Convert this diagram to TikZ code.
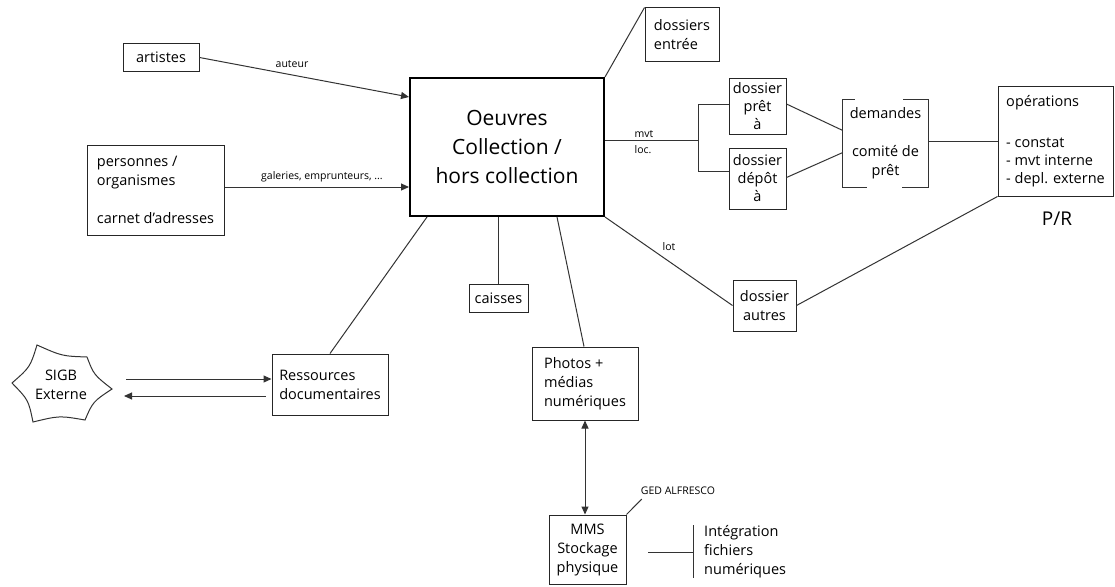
\documentclass[tikz,border=0pt]{standalone}
\usepackage{fontspec}
\setmainfont{Open Sans}
\usetikzlibrary{arrows.meta,calc}
\begin{document}
\begin{tikzpicture}[x=1pt,y=-1pt,
  line/.style={draw=black!80, line width=1pt},
  arr/.style={line, -{Triangle[length=8pt,width=7pt]}},
  darr/.style={line, {Triangle[length=8pt,width=7pt]}-{Triangle[length=8pt,width=7pt]}},
  box/.style={draw=black!85, line width=1pt, inner sep=0pt, align=center,
    font=\fontsize{14.5}{19}\selectfont},
  lbox/.style={box, align=left},
  bigbox/.style={draw=black, line width=2pt, inner sep=0pt, align=center,
    font=\fontsize{21}{29}\selectfont},
  lbl/.style={inner sep=0pt, font=\fontsize{10.5}{16}\selectfont},
  txt/.style={inner sep=0pt, font=\fontsize{14.5}{19}\selectfont}
]
\useasboundingbox (0,0) rectangle (1115,586);

% nodes
\node[box, minimum width=76pt, minimum height=27pt] (art) at (161,57.5) {artistes};
\node[lbox, minimum width=137pt, minimum height=90pt] (pers) at (155.5,190)
  {personnes /\\organismes\\[19pt]carnet d'adresses};
\node[bigbox, minimum width=194pt, minimum height=138pt] (main) at (507,147)
  {Oeuvres\\Collection /\\hors collection};
\node[lbox, minimum width=74pt, minimum height=53pt] (dent) at (682,34.5) {dossiers\\entrée};
\node[box, minimum width=57pt, minimum height=56pt, font=\fontsize{14.5}{18}\selectfont] (pret) at (757.5,106) {dossier\\prêt\\à};
\node[box, minimum width=57pt, minimum height=61pt, font=\fontsize{14.5}{18}\selectfont] (depot) at (757.5,178.5) {dossier\\dépôt\\à};
\node[txt, align=center, minimum width=85pt, minimum height=87pt] (dem) at (885.5,143.5)
  {demandes\\[19pt]comité de\\prêt};
\node[lbox, minimum width=115pt, minimum height=110pt, font=\fontsize{14.5}{18}\selectfont] (ops) at (1055.5,141)
  {opérations\\[23pt]- constat\\- mvt interne\\- depl. externe};
\node[txt, font=\fontsize{19}{22}\selectfont] (pr) at (1057,219) {P/R};
\node[box, minimum width=63pt, minimum height=51pt] (autres) at (764.5,305.5) {dossier\\autres};
\node[box, minimum width=59pt, minimum height=28pt] (caisses) at (498.5,298) {caisses};
\node[lbox, minimum width=106pt, minimum height=73pt] (photos) at (585,383.5)
  {Photos +\\médias\\numériques};
\node[box, minimum width=77pt, minimum height=69pt] (mms) at (587.5,549.5)
  {MMS\\Stockage\\physique};
\node[lbox, minimum width=116pt, minimum height=61pt] (res) at (330,384.5)
  {Ressources\\documentaires};
\node[txt, align=center] (sigb) at (61,385) {SIGB\\Externe};
\node[lbl] (ged) at (678,491) {GED ALFRESCO};
\node[txt, align=left, anchor=west] (integ) at (704,552) {Intégration\\fichiers\\numériques};

% labels
\node[lbl] (lauteur) at (292,64) {auteur};
\node[lbl] (lgal) at (322,177) {galeries, emprunteurs, ...};
\node[lbl, align=left] (lmvt) at (644,142) {mvt\\loc.};
\node[lbl] (llot) at (669,247) {lot};

% demandes brackets
\draw[line] (dem.north west) ++(12,0) -- (dem.north west) -- (dem.south west) -- ++(24,0);
\draw[line] (dem.north east) ++(-25,0) -- (dem.north east) -- (dem.south east) -- ++(-26,0);

% SIGB shape
\coordinate (s1) at (37,345);
\coordinate (s2) at (87,357);
\coordinate (s3) at (112,389);
\coordinate (s4) at (85,420);
\coordinate (s5) at (33,422);
\coordinate (s6) at (12,383);
\coordinate (sc) at (62,385);
\draw[line] (s1) .. controls ($(s1)!.5!(s2)!.15!(sc)$) .. (s2)
  .. controls ($(s2)!.5!(s3)!.15!(sc)$) .. (s3)
  .. controls ($(s3)!.5!(s4)!.15!(sc)$) .. (s4)
  .. controls ($(s4)!.5!(s5)!.15!(sc)$) .. (s5)
  .. controls ($(s5)!.5!(s6)!.15!(sc)$) .. (s6)
  .. controls ($(s6)!.5!(s1)!.15!(sc)$) .. (s1) -- cycle;

% connectors
\draw[arr] (art.east) -- ($(main.north west)+(0,20)$);
\draw[arr] ($(pers.east)+(0,-3)$) -- ($(main.west)+(0,40)$);
\draw[line] (main.north east) -- (dent.north west);
\coordinate (j1) at (698,140);
\draw[line] ($(main.east)+(0,-7)$) -- (j1);
\draw[line] (j1) |- ($(pret.west)+(0,-2)$);
\draw[line] (j1) |- ($(depot.west)+(0,-7)$);
\draw[line] ($(pret.east)+(0,-2)$) -- ($(dem.west)+(0,-13)$);
\draw[line] ($(depot.east)+(0,-1)$) -- ($(dem.west)+(0,9)$);
\draw[line] (dem.east |- ops.west) -- (ops.west);
\draw[line] (ops.south west) -- (autres.east);
\draw[line] (main.south east) -- (autres.west);
\draw[line] (caisses.north |- main.south) -- (caisses.north);
\draw[line] ($(main.south west)+(148,0)$) -- ($(photos.north)+(-1,0)$);
\draw[line] ($(main.south west)+(18,0)$) -- (res.north);
\draw[darr] (photos.south -| 585,0) -- (mms.north -| 585,0);
\draw[line] (mms.north east) -- ($(ged.south west)+(1,4)$);
\coordinate (sa1) at (126,379);
\coordinate (sa2) at (124,396);
\draw[arr] (sa1) -- (sa1 -| res.west);
\draw[arr] ($(res.west)+(-6,11.5)$) -- (sa2);
\coordinate (i1) at (648,552);
\coordinate (i2) at (693,552);
\coordinate (i3) at (693,525);
\coordinate (i4) at (693,578);
\draw[line] (i1) -- (i2);
\draw[line] (i3) -- (i4);
\end{tikzpicture}
\end{document}
